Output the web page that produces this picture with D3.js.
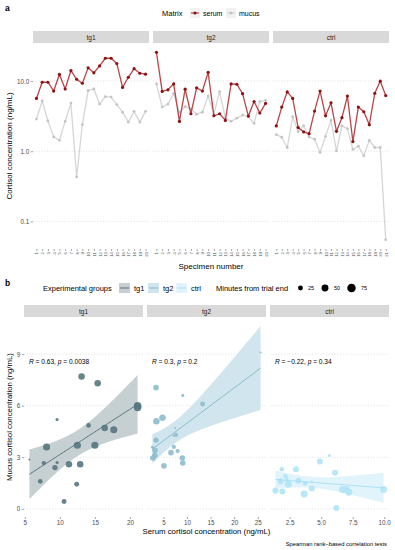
<!DOCTYPE html>
<html><head><meta charset="utf-8">
<script src="https://cdn.jsdelivr.net/npm/d3@7"></script>
<style>body{margin:0;background:#fff}svg{display:block;font-family:"Liberation Sans",Arial,sans-serif}</style>
</head><body><svg id="c" width="395" height="550"></svg>
<script>
// ---------- DATA ----------
const groups = ["tg1", "tg2", "ctrl"];
const specimensTg1 = ["1","2","3","4","5","6","7","8","9","10","11","12","13","14","15","16","17","18","19","20"];
const specimensTg2 = ["1","2","3","4","5","6","7","8","9","10","11","12","13","14","15","16","17","18","19","20"];
const specimensCtrl = ["1","2","3","4","5","6","7","8","9","10","11","12","13","14","15","16","17","18","19","20","21"];
const serumTg1 = [5.65, 9.6, 9.6, 7.2, 12.4, 7.7, 14.1, 10.6, 9.3, 15.4, 13.1, 16.4, 21.1, 21.1, 17.7, 8.1, 11.3, 15.0, 12.9, 12.5];
const mucusTg1 = [2.87, 5.2, 2.7, 1.6, 1.43, 2.66, 4.85, 0.43, 2.4, 7.3, 7.7, 4.7, 6.0, 5.9, 4.6, 3.6, 2.6, 3.7, 2.6, 3.7];
const serumTg2 = [25.6, 7.1, 7.5, 9.1, 2.66, 7.66, 3.42, 8.0, 7.2, 13.3, 3.2, 3.42, 2.75, 9.1, 9.0, 6.6, 3.17, 5.1, 3.5, 4.8];
const mucusTg2 = [9.1, 4.25, 4.7, 6.6, 3.6, 4.3, 4.0, 3.36, 3.6, 6.1, 3.4, 7.05, 2.96, 2.67, 2.96, 3.27, 3.1, 2.5, 5.1, 5.3];
const serumCtrl = [2.29, 4.25, 7.0, 5.65, 2.17, 1.88, 1.78, 3.73, 7.2, 3.2, 4.9, 1.92, 3.0, 6.1, 1.37, 4.25, 3.65, 2.39, 6.7, 9.95, 6.2];
const mucusCtrl = [1.72, 1.58, 1.13, 3.1, 1.9, 2.3, 1.6, 1.48, 0.96, 1.63, 2.75, 1.01, 2.3, 2.1, 1.06, 1.18, 0.86, 1.43, 1.13, 1.13, 0.055];
const minutesTg1 = [4, 10, 10, 23, 25, 19, 23, 25, 30, 44, 44, 44, 60, 60, 53, 53, 44, 53, 44, 53];
const minutesTg2 = [4, 4, 4, 10, 10, 19, 30, 19, 19, 25, 32, 32, 32, 32, 32, 32, 32, 32, 44, 44];
const minutesCtrl = [12, 5, 50, 10, 22, 22, 38, 22, 50, 38, 38, 38, 38, 38, 38, 38, 50, 50, 50, 50, 38];
const matrixLabels = ["serum", "mucus"];
const logTicks = [0.1, 1, 10];
const logTickLabels = ["0.1", "1.0", "10.0"];
const mucusTicks = [0, 3, 6, 9];
const serumTicksTg1 = [5, 10, 15, 20];
const serumTicksTg2 = [5, 10, 15, 20, 25];
const serumTicksCtrl = [2.5, 5, 7.5, 10];
const serumTickLabelsCtrl = ["2.5", "5.0", "7.5", "10.0"];
const spearmanR = ["0.63", "0.3", "\u22120.22"];
const spearmanP = ["0.0038", "0.2", "0.34"];
const sizeBreaks = [25, 50, 75];

// ---------- STYLE / LAYOUT ----------
const svg = d3.select("#c");
const serumLine = "#b5474b", serumPt = "#8b1212", mucusLine = "#d6d6d6", mucusPt = "#c4c4c4";
const grpLine = {tg1: "#56737c", tg2: "#86b9cb", ctrl: "#a9def2"};
const grpPt = {tg1: "#57757e", tg2: "#8cbdce", ctrl: "#b0e4f6"};
const grpFill = {tg1: "#c6d0d3", tg2: "#d0e5ed", ctrl: "#e2f4fb"};
const tickCol = "#4d4d4d", gridCol = "#d2d2d2";

const byGroup = {
  tg1: {spec: specimensTg1, serum: serumTg1, mucus: mucusTg1, min: minutesTg1, ticks: serumTicksTg1, fmt: d => d},
  tg2: {spec: specimensTg2, serum: serumTg2, mucus: mucusTg2, min: minutesTg2, ticks: serumTicksTg2, fmt: d => d},
  ctrl: {spec: specimensCtrl, serum: serumCtrl, mucus: mucusCtrl, min: minutesCtrl, ticks: serumTicksCtrl, fmt: (d, i) => serumTickLabelsCtrl[i]}
};

const A = {top: 43, bottom: 249, x0: [33, 153, 273], w: 116, stripTop: 31};
const B = {top: 317, bottom: 517, x0: [24, 147, 270], w: 119, stripTop: 305};

function label(x, y, txt, size, opts = {}) {
  const t = svg.append("text").attr("x", x).attr("y", y).attr("font-size", size)
    .attr("fill", opts.fill || "#000").attr("text-anchor", opts.anchor || "start").text(txt);
  if (opts.weight) t.attr("font-weight", opts.weight);
  if (opts.rotate) t.attr("transform", `rotate(-90,${x},${y})`);
  return t;
}

// ---------- PANEL A ----------
label(5, 11, "a", 8.5, {weight: "bold"});
label(162, 16, "Matrix", 7.5);
[[serumLine, serumPt, 190, matrixLabels[0]], [mucusLine, mucusPt, 226, matrixLabels[1]]].forEach(([lc, pc, x, t]) => {
  svg.append("rect").attr("x", x).attr("y", 8).attr("width", 10).attr("height", 10).attr("fill", "#f2f2f2");
  svg.append("line").attr("x1", x + 1).attr("x2", x + 9).attr("y1", 13).attr("y2", 13).attr("stroke", lc).attr("stroke-width", 1.2);
  svg.append("circle").attr("cx", x + 5).attr("cy", 13).attr("r", 1.6).attr("fill", pc);
  label(x + 13, 15.6, t, 7);
});

const allA = [].concat(serumTg1, mucusTg1, serumTg2, mucusTg2, serumCtrl, mucusCtrl);
const lext = d3.extent(allA).map(Math.log10);
const lpad = (lext[1] - lext[0]) * 0.05;
const yA = d3.scaleLog().domain([Math.pow(10, lext[0] - lpad), Math.pow(10, lext[1] + lpad)]).range([A.bottom, A.top]);

groups.forEach((g, gi) => {
  const d = byGroup[g];
  const x0 = A.x0[gi], x1 = x0 + A.w;
  svg.append("rect").attr("x", x0).attr("y", A.stripTop).attr("width", A.w).attr("height", A.top - A.stripTop).attr("fill", "#d9d9d9");
  label((x0 + x1) / 2, A.stripTop + 8.6, g, 6.5, {anchor: "middle", fill: "#1a1a1a"});
  const x = d3.scalePoint().domain(d.spec).range([x0, x1]).padding(0.6);
  logTicks.forEach(t => svg.append("line").attr("x1", x0).attr("x2", x1).attr("y1", yA(t)).attr("y2", yA(t))
    .attr("stroke", gridCol).attr("stroke-width", 0.7).attr("stroke-dasharray", "1,1.8"));
  const line = d3.line().x((v, i) => x(d.spec[i])).y(v => yA(v));
  svg.append("path").attr("d", line(d.mucus)).attr("fill", "none").attr("stroke", mucusLine).attr("stroke-width", 1.3);
  svg.selectAll(null).data(d.mucus).enter().append("circle").attr("cx", (v, i) => x(d.spec[i])).attr("cy", v => yA(v)).attr("r", 1.4).attr("fill", mucusPt);
  svg.append("path").attr("d", line(d.serum)).attr("fill", "none").attr("stroke", serumLine).attr("stroke-width", 1.3);
  svg.selectAll(null).data(d.serum).enter().append("circle").attr("cx", (v, i) => x(d.spec[i])).attr("cy", v => yA(v)).attr("r", 1.6).attr("fill", serumPt);
  const ax = svg.append("g").attr("transform", `translate(0,${A.bottom})`).call(d3.axisBottom(x).tickSize(2));
  ax.select(".domain").remove();
  ax.selectAll("line").attr("stroke", tickCol).attr("stroke-width", 0.5);
  ax.selectAll("text").attr("font-size", 4.3).attr("fill", tickCol).attr("font-family", null)
    .attr("y", 0).attr("x", -3).attr("dy", "0.35em").attr("transform", "rotate(-90)").style("text-anchor", "end");
});
{
  const ay = svg.append("g").attr("transform", `translate(${A.x0[0]},0)`).call(d3.axisLeft(yA).tickValues(logTicks).tickFormat((t, i) => logTickLabels[i]).tickSize(2.2).tickPadding(1.5));
  ay.select(".domain").remove();
  ay.selectAll("line").attr("stroke", tickCol).attr("stroke-width", 0.5);
  ay.selectAll("text").attr("font-size", 6.3).attr("fill", tickCol).attr("font-family", null);
}
label(12, (A.top + A.bottom) / 2, "Cortisol concentration (ng/mL)", 8, {anchor: "middle", rotate: true});
label((A.x0[0] + A.x0[2] + A.w) / 2, 268.5, "Specimen number", 8, {anchor: "middle"});

// ---------- PANEL B ----------
label(5, 286, "b", 8.5, {weight: "bold"});
label(43, 291, "Experimental groups", 7.5);
[["tg1", 119], ["tg2", 148], ["ctrl", 176]].forEach(([g, x]) => {
  svg.append("rect").attr("x", x).attr("y", 283).attr("width", 11).attr("height", 10).attr("fill", grpFill[g]);
  svg.append("line").attr("x1", x + 1).attr("x2", x + 10).attr("y1", 288).attr("y2", 288).attr("stroke", grpLine[g]).attr("stroke-width", 1);
  label(x + 15, 291, g, 7.5);
});
label(216, 291, "Minutes from trial end", 7.5);

function tq(nu) {
  const z = 1.959964;
  return z + (z ** 3 + z) / (4 * nu) + (5 * z ** 5 + 16 * z ** 3 + 3 * z) / (96 * nu * nu) + (3 * z ** 7 + 19 * z ** 5 + 17 * z ** 3 - 15 * z) / (384 * nu ** 3);
}
function lmFit(xs, ys) {
  const n = xs.length, mx = d3.mean(xs), my = d3.mean(ys);
  let sxx = 0, sxy = 0;
  xs.forEach((v, i) => { sxx += (v - mx) ** 2; sxy += (v - mx) * (ys[i] - my); });
  const b = sxy / sxx, a = my - b * mx;
  let sse = 0; xs.forEach((v, i) => { sse += (ys[i] - a - b * v) ** 2; });
  const s = Math.sqrt(sse / (n - 2)), t = tq(n - 2);
  const [lo, hi] = d3.extent(xs);
  return d3.range(80).map(k => {
    const xv = lo + (hi - lo) * k / 79, f = a + b * xv;
    const se = s * Math.sqrt(1 / n + (xv - mx) ** 2 / sxx);
    return {x: xv, y: f, lo: f - t * se, hi: f + t * se};
  });
}
const fits = {};
groups.forEach(g => fits[g] = lmFit(byGroup[g].serum, byGroup[g].mucus));
const yvals = [];
groups.forEach(g => { yvals.push(...byGroup[g].mucus); fits[g].forEach(p => yvals.push(p.lo, p.hi)); });
const yext = d3.extent(yvals), ypad = (yext[1] - yext[0]) * 0.05;
const yB = d3.scaleLinear().domain([yext[0] - ypad, yext[1] + ypad]).range([B.bottom, B.top]);
const rS = d3.scaleSqrt().domain([0, 80]).range([0, 4.4]);

[[300.5, 308], [325, 334], [351.5, 361]].forEach(([cx, tx], i) => {
  svg.append("circle").attr("cx", cx).attr("cy", 288).attr("r", rS(sizeBreaks[i])).attr("fill", "#000");
  label(tx, 290, String(sizeBreaks[i]), 5.5);
});

groups.forEach((g, gi) => {
  const d = byGroup[g];
  const x0 = B.x0[gi], x1 = x0 + B.w;
  svg.append("rect").attr("x", x0).attr("y", B.stripTop).attr("width", B.w).attr("height", B.top - B.stripTop).attr("fill", "#d9d9d9");
  label((x0 + x1) / 2, B.stripTop + 8.6, g, 6.5, {anchor: "middle", fill: "#1a1a1a"});
  const xe = d3.extent(d.serum), xp = (xe[1] - xe[0]) * 0.05;
  const x = d3.scaleLinear().domain([xe[0] - xp, xe[1] + xp]).range([x0, x1]);
  mucusTicks.forEach(t => svg.append("line").attr("x1", x0).attr("x2", x1).attr("y1", yB(t)).attr("y2", yB(t))
    .attr("stroke", gridCol).attr("stroke-width", 0.7).attr("stroke-dasharray", "1,1.8"));
  const f = fits[g];
  svg.append("path").attr("d", d3.area().x(p => x(p.x)).y0(p => yB(p.lo)).y1(p => yB(p.hi))(f)).attr("fill", grpFill[g]);
  const pts = d.serum.map((s, i) => ({s, m: d.mucus[i], r: rS(d.min[i])}));
  svg.selectAll(null).data(pts).enter().append("circle").attr("cx", p => x(p.s)).attr("cy", p => yB(p.m)).attr("r", p => p.r)
    .attr("fill", grpPt[g]).attr("fill-opacity", 0.9);
  svg.append("path").attr("d", d3.line().x(p => x(p.x)).y(p => yB(p.y))(f)).attr("fill", "none").attr("stroke", grpLine[g]).attr("stroke-width", 1);
  const t = svg.append("text").attr("x", x0 + 5).attr("y", 363.5).attr("font-size", 6.6).attr("fill", "#000");
  t.append("tspan").attr("font-style", "italic").text("R");
  t.append("tspan").text(` = ${spearmanR[gi]}, `);
  t.append("tspan").attr("font-style", "italic").text("p");
  t.append("tspan").text(` = ${spearmanP[gi]}`);
  const ax = svg.append("g").attr("transform", `translate(0,${B.bottom})`).call(d3.axisBottom(x).tickValues(d.ticks).tickFormat(d.fmt).tickSize(2).tickPadding(1.5));
  ax.select(".domain").remove();
  ax.selectAll("line").attr("stroke", tickCol).attr("stroke-width", 0.5);
  ax.selectAll("text").attr("font-size", 6.3).attr("fill", tickCol).attr("font-family", null);
});
{
  const ay = svg.append("g").attr("transform", `translate(${B.x0[0]},0)`).call(d3.axisLeft(yB).tickValues(mucusTicks).tickSize(2.2).tickPadding(1.5));
  ay.select(".domain").remove();
  ay.selectAll("line").attr("stroke", tickCol).attr("stroke-width", 0.5);
  ay.selectAll("text").attr("font-size", 6.3).attr("fill", tickCol).attr("font-family", null);
}
label(12, (B.top + B.bottom) / 2, "Mucus cortisol concentration (ng/mL)", 7.8, {anchor: "middle", rotate: true});
label((B.x0[0] + B.x0[2] + B.w) / 2, 533.5, "Serum cortisol concentration (ng/mL)", 7.8, {anchor: "middle"});
label(387, 546, "Spearman rank\u2212based correlation tests", 5.8, {anchor: "end"});
</script></body></html>
